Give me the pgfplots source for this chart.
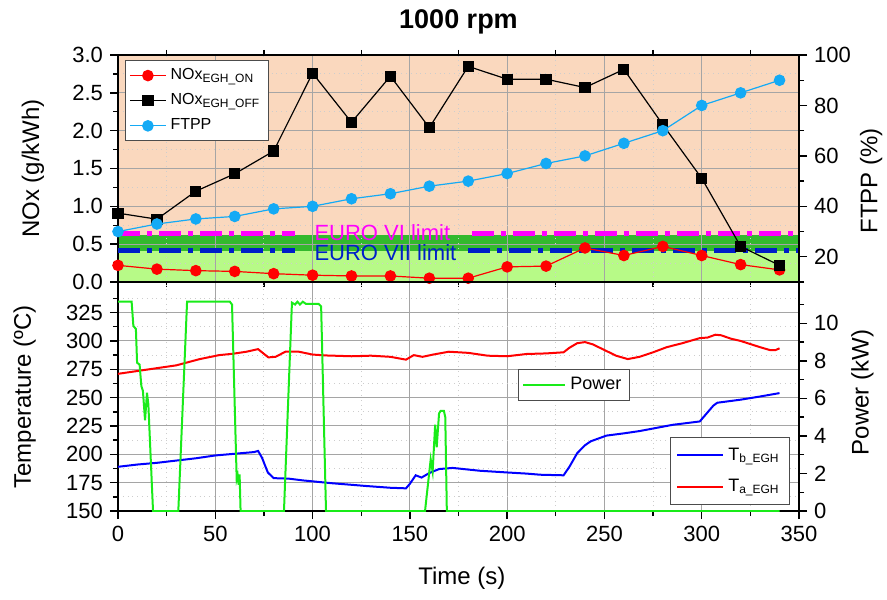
\documentclass[border=0pt]{standalone}
\usepackage{pgfplots}
\pgfplotsset{compat=1.18}
\usepackage{fontspec}
\setmainfont{Liberation Sans}
\definecolor{cPeach}{RGB}{250,216,190}
\definecolor{cDkGreen}{RGB}{51,185,45}
\definecolor{cLtGreen}{RGB}{183,250,135}
\definecolor{cSky}{RGB}{20,170,245}
\definecolor{cMag}{RGB}{255,0,255}
\definecolor{cNavy}{RGB}{0,30,200}
\definecolor{cPow}{RGB}{25,235,25}
\definecolor{cGridMaj}{RGB}{165,165,165}
\definecolor{cGridMin}{RGB}{205,205,205}

\pgfplotsset{
  panel/.style={
    scale only axis, width=340.5pt, xmin=0, xmax=350,
    tick align=outside, major tick length=4pt, minor tick length=2.5pt,
    axis line style={line width=0.8pt},
    every tick/.style={black, line width=0.7pt},
    tick label style={font=\fontsize{11}{12}\selectfont},
    /pgf/number format/assume math mode=true,
    label style={font=\fontsize{12}{14}\selectfont},
    major grid style={cGridMaj, line width=0.5pt},
    minor grid style={cGridMin, dotted, line width=0.5pt},
  },
  lgd/.style={
    legend image code/.code={\draw[mark repeat=2,mark phase=2,##1]
      plot coordinates {(0pt,0pt)(#1/2,0pt)(#1,0pt)};}},
}

\begin{document}
\begin{tikzpicture}
% ---------- top panel: NOx ----------
\begin{axis}[panel, at={(0,0)}, anchor=south west, height=113.5pt, set layers,
  ymin=0, ymax=3, ytick={0,0.5,1,1.5,2,2.5,3}, minor ytick={0.25,0.75,...,2.75},
  xtick={0,50,...,350}, minor xtick={25,75,...,325},
  xmajorticks=false, xminorticks=false, ytick pos=left, grid=both,
  yticklabel style={/pgf/number format/.cd, fixed, fixed zerofill, precision=1},
  ylabel={NOx (g/kWh)}, ylabel style={at={(axis description cs:-0.125,0.5)}, anchor=center},
  lgd=18pt,
  legend style={at={(0.01,0.978)}, anchor=north west, draw=black!70, line width=0.5pt,
    fill=white, font=\fontsize{8}{10}\selectfont, inner sep=2pt, row sep=1.5pt,
    cells={anchor=west}}]
\addplot[forget plot, draw=none, fill=cPeach, on layer=axis background]
  coordinates {(0,0.62)(350,0.62)(350,3)(0,3)};
\addplot[forget plot, draw=none, fill=cDkGreen, on layer=axis background]
  coordinates {(0,0.41)(350,0.41)(350,0.62)(0,0.62)};
\addplot[forget plot, draw=none, fill=cLtGreen, on layer=axis background]
  coordinates {(0,0)(350,0)(350,0.41)(0,0.41)};
\addplot[forget plot, cMag, line width=2.5pt, dash pattern=on 11pt off 3.5pt on 2.5pt off 3.5pt]
  coordinates {(0,0.64)(91,0.64)};
\addplot[forget plot, cMag, line width=2.5pt, dash pattern=on 11pt off 3.5pt on 2.5pt off 3.5pt]
  coordinates {(182,0.64)(350,0.64)};
\addplot[forget plot, cNavy, line width=2.5pt, dash pattern=on 11pt off 3.5pt on 2.5pt off 3.5pt]
  coordinates {(0,0.41)(91,0.41)};
\addplot[forget plot, cNavy, line width=2.5pt, dash pattern=on 11pt off 3.5pt on 2.5pt off 3.5pt]
  coordinates {(180,0.41)(350,0.41)};
\node[anchor=base west, inner sep=0pt, text=cMag, font=\fontsize{11}{12}\selectfont]
  at (axis cs:100.8,0.555) {EURO VI limit};
\node[anchor=base west, inner sep=0pt, text=cNavy, font=\fontsize{11}{12}\selectfont]
  at (axis cs:100.8,0.29) {EURO VII limit};
\addplot[red, line width=0.6pt, mark=*, mark size=2.6pt, mark options={solid, fill=red}]
  coordinates {(0,0.22)(20,0.17)(40,0.15)(60,0.14)(80,0.11)(100,0.09)(120,0.08)(140,0.08)
  (160,0.05)(180,0.05)(200,0.20)(220,0.21)(240,0.45)(260,0.35)(280,0.47)(300,0.35)
  (320,0.23)(340,0.16)};
\addlegendentry{NOx\textsubscript{EGH\_ON}}
\addplot[black, line width=0.6pt, mark=square*, mark size=2.5pt, mark options={solid, fill=black}]
  coordinates {(0,0.91)(20,0.83)(40,1.20)(60,1.43)(80,1.73)(100,2.76)(120,2.11)(140,2.72)
  (160,2.04)(180,2.85)(200,2.68)(220,2.68)(240,2.57)(260,2.81)(280,2.08)(300,1.37)
  (320,0.47)(340,0.22)};
\addlegendentry{NOx\textsubscript{EGH\_OFF}}
\addlegendimage{cSky, line width=0.6pt, mark=*, mark size=2.6pt, mark options={solid, fill=cSky}}
\addlegendentry{FTPP}
\end{axis}
% ---------- top panel: FTPP ----------
\begin{axis}[panel, at={(0,0)}, anchor=south west, height=113.5pt,
  ymin=10, ymax=100, ytick={20,40,...,100}, minor ytick={10,30,...,90},
  axis y line*=right, axis x line=none,
  ylabel={FTPP (\%)}, ylabel style={at={(axis description cs:1.106,0.445)}, anchor=center}]
\addplot[cSky, line width=0.6pt, mark=*, mark size=2.6pt, mark options={solid, fill=cSky}]
  coordinates {(0,30)(20,33)(40,35)(60,36)(80,39)(100,40)(120,43)(140,45)(160,48)(180,50)
  (200,53)(220,57)(240,60)(260,65)(280,70)(300,80)(320,85)(340,90)};
\end{axis}
% ---------- bottom panel: temperatures ----------
\begin{axis}[panel, at={(0,0)}, anchor=north west, height=114.5pt,
  ymin=150, ymax=352, ytick={150,175,...,325}, minor ytick={162.5,187.5,...,337.5},
  xtick={0,50,...,350}, minor xtick={25,75,...,325},
  xtick pos=left, ytick pos=left, grid=both,
  xlabel={Time (s)}, xlabel style={at={(axis description cs:0.505,-0.293)}, anchor=center},
  ylabel={Temperature (ºC)}, ylabel style={at={(axis description cs:-0.137,0.498)}, anchor=center},
  lgd=23pt,
  legend style={at={(0.987,0.026)}, anchor=south east, draw=black!70, line width=0.5pt,
    fill=white, font=\fontsize{9}{11}\selectfont, inner sep=3pt, row sep=4pt,
    cells={anchor=west}}]
\addplot[blue, line width=1pt] coordinates {
  (0,189)(10,191)(20,192.5)(30,194.5)(40,196.5)(50,199)(60,200.5)(70,202)(72,203)(74,197)
  (77,184)(80,179)(88,178.5)(95,177)(110,174.5)(128,172)(140,170.5)(148,170)(150,174)
  (153,181.5)(156,179.5)(160,183.5)(165,187)(172,188)(186,185.5)(200,184)(210,183)(217,182)
  (229,181.5)(232,189)(236,201)(240,208)(243,211.5)(251,216.5)(260,218.5)(268,220.5)
  (285,226)(299,229)(302,235)(306,243)(308,245.5)(320,248.2)(330,251)(340,254)};
\addlegendentry{T\textsubscript{b\_EGH}}
\addplot[red, line width=1pt] coordinates {
  (0,271)(10,273.5)(20,276)(30,278.5)(42,284)(52,287.5)(59,288.7)(66,290.5)(72,292.8)(74,290)
  (77.3,285.5)(81,286)(86,290.5)(93,290.5)(100,288)(107,287.2)(120,286.5)(130,287)(140,286)
  (148,283.5)(152,287.5)(156.5,286)(162,288)(170,290.5)(180,289.5)(190,287)(200,286.5)
  (210,288.5)(220,289)(229,290)(232,294)(236,298)(240,299)(244,297)(250,292)(256,287)
  (262,284)(268,286)(275,290)(282,294.5)(290,298)(299,302.5)(303,303)(307,305.5)(310,305)
  (315,302)(320,300)(330,294.5)(335,292)(338,292)(340,293.5)};
\addlegendentry{T\textsubscript{a\_EGH}}
\end{axis}
% ---------- bottom panel: power ----------
\begin{axis}[panel, at={(0,0)}, anchor=north west, height=114.5pt,
  ymin=0, ymax=12.2, ytick={0,2,...,10}, minor ytick={1,3,...,11},
  axis y line*=right, axis x line=none,
  ylabel={Power (kW)}, ylabel style={at={(axis description cs:1.093,0.517)}, anchor=center},
  lgd=21pt,
  legend style={at={(0.587,0.62)}, anchor=north west, draw=black!70, line width=0.5pt,
    fill=white, font=\fontsize{9}{11}\selectfont, inner sep=2pt}]
\addplot[cPow, line width=1pt] coordinates {
  (0,11.15)(7,11.15)(7.9,9.86)(9.2,9.7)(9.8,7.9)(11.1,7.8)(12,6.66)(12.8,6.4)(13.9,4.83)
  (14.9,6.3)(15.6,5.68)(18,0)(31,0)(35.5,11.15)(57.5,11.15)(58.6,11.0)(61,1.7)(61.5,1.9)
  (62,1.4)(62.5,1.95)(63,0)(85.3,0)(89.4,11.1)(91,11.0)(92.2,11.15)(93.5,11.0)(95,11.15)
  (96.5,11.04)(103,11.04)(104.4,10.9)(106.9,0)(157.8,0)(160.7,2.75)(161.7,2.1)(163,4.6)
  (163.8,3.4)(165,5.2)(165.8,5.33)(167.5,5.33)(168.2,5.0)(169,0)(340,0)};
\addlegendentry{Power}
\end{axis}
\node[font=\bfseries\fontsize{13.5}{16}\selectfont] at (170.25pt,130pt) {1000 rpm};
\pgfresetboundingbox
\useasboundingbox (-59pt,-158.5pt) rectangle (384.5pt,141pt);
\end{tikzpicture}
\end{document}
